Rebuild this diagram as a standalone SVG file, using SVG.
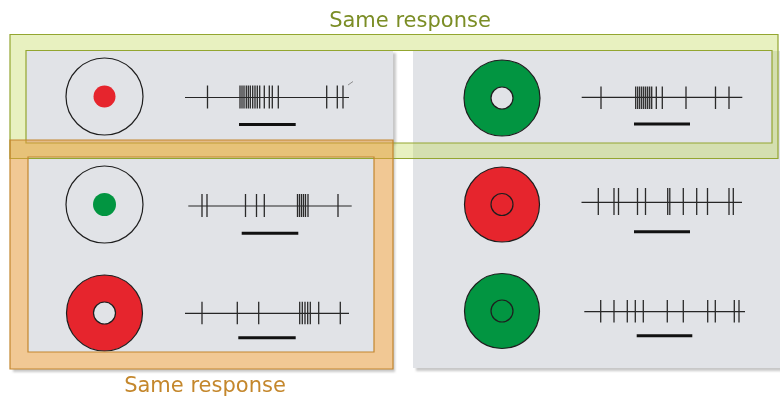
<svg xmlns="http://www.w3.org/2000/svg" width="780" height="398" viewBox="0 0 780 398">
  <style>
    .panel { fill: #e1e3e7; }
    .shadow { fill: #9a9a9a; opacity: 0.55; }
    .ring { fill: none; stroke: #1e1e1e; stroke-width: 1.2; }
    .red { fill: #e6252d; stroke: #1e1e1e; stroke-width: 1.2; }
    .green { fill: #029541; stroke: #1e1e1e; stroke-width: 1.2; }
    .dot-red { fill: #e6252d; }
    .dot-green { fill: #029541; }
    .axis { fill: none; stroke: #262626; stroke-width: 1.2; }
    .spikes { fill: none; stroke: #2a2a2a; stroke-width: 1.3; }
    .bar { fill: none; stroke: #111; stroke-width: 3; }
    .label { font-family: "DejaVu Sans", "Liberation Sans", sans-serif; font-size: 21px; text-anchor: middle; }
  </style>
  <defs>
    <filter id="soft" x="-5%" y="-5%" width="110%" height="110%">
      <feGaussianBlur stdDeviation="1.2"/>
    </filter>
  </defs>

  <rect width="780" height="398" fill="#ffffff"/>

  <!-- card shadows -->
  <g id="shadows" filter="url(#soft)">
    <rect class="shadow" x="29" y="53" width="367" height="92"/>
    <rect class="shadow" x="416" y="54" width="367" height="317"/>
    <rect class="shadow" x="13" y="143" width="382" height="229"/>
  </g>
  <!-- clear the area under the orange frame so its tint stays light -->
  <rect x="10" y="140" width="383" height="229" fill="#ffffff"/>

  <!-- cards -->
  <rect class="panel" x="26" y="50" width="367" height="93"/>
  <rect class="panel" x="413" y="51" width="367" height="317"/>
  <rect class="panel" x="28" y="157" width="346" height="195"/>

  <!-- row 1, left: small red spot in empty ring -->
  <g id="stim-top-left">
    <circle class="ring" cx="104.5" cy="96.5" r="38.5"/>
    <circle class="dot-red" cx="104.5" cy="96.5" r="11"/>
  </g>
  <g id="train-top-left">
    <path class="axis" d="M185 97.5 H349"/>
    <path class="spikes" d="M207.5 85.5 V108.5 M240 85.5 V108.5 M242 85.5 V108.5 M244 85.5 V108.5 M246.3 85.5 V108.5 M248.3 85.5 V108.5 M250.3 85.5 V108.5 M252.7 85.5 V108.5 M255 85.5 V108.5 M257.3 85.5 V108.5 M259.7 85.5 V108.5 M264.3 85.5 V108.5 M269.3 85.5 V108.5 M272.3 85.5 V108.5 M278.3 85.5 V108.5 M326.7 85.5 V108.5 M337.3 85.5 V108.5 M343 85.5 V108.5"/>
    <path d="M348 85 L353 81.5" stroke="#777" stroke-width="0.8" fill="none"/>
    <path class="bar" d="M239 124.5 H295.7"/>
  </g>

  <!-- row 1, right: green annulus -->
  <g id="stim-top-right">
    <path class="green" fill-rule="evenodd" d="M464 98 a38 38 0 1 0 76 0 a38 38 0 1 0 -76 0 Z M491 98 a11 11 0 1 0 22 0 a11 11 0 1 0 -22 0 Z"/>
  </g>
  <g id="train-top-right">
    <path class="axis" d="M581.7 97.3 H742.3"/>
    <path class="spikes" d="M601 86.5 V109 M635.7 86.5 V109 M637.7 86.5 V109 M639.7 86.5 V109 M641.7 86.5 V109 M643.7 86.5 V109 M645.7 86.5 V109 M647.7 86.5 V109 M649.7 86.5 V109 M651.7 86.5 V109 M656.3 86.5 V109 M662.3 86.5 V109 M686 86.5 V109 M715.5 86.5 V109 M729 86.5 V109"/>
    <path class="bar" d="M634 124 H690"/>
  </g>

  <!-- row 2, left: small green spot in empty ring -->
  <g id="stim-mid-left">
    <circle class="ring" cx="104.5" cy="204.5" r="38.5"/>
    <circle class="dot-green" cx="104.5" cy="204.5" r="11.5"/>
  </g>
  <g id="train-mid-left">
    <path class="axis" d="M188.3 206 H351.7"/>
    <path class="spikes" d="M202 194 V217 M207 194 V217 M245.5 194 V217 M256.5 194 V217 M264.3 194 V217 M297.5 194 V217 M299.5 194 V217 M301.5 194 V217 M303.5 194 V217 M305.5 194 V217 M308 194 V217 M338 194 V217"/>
    <path class="bar" d="M241.7 233.3 H298.3"/>
  </g>

  <!-- row 2, right: red disc with outlined centre -->
  <g id="stim-mid-right">
    <circle class="red" cx="502" cy="204.5" r="37.5"/>
    <circle class="ring" cx="502" cy="204.5" r="11"/>
  </g>
  <g id="train-mid-right">
    <path class="axis" d="M581.5 202.3 H742"/>
    <path class="spikes" d="M598.3 188 V215 M614 188 V215 M618.5 188 V215 M637.5 188 V215 M645.5 188 V215 M667.7 188 V215 M669.8 188 V215 M683.3 188 V215 M696.7 188 V215 M707.5 188 V215 M729 188 V215 M733.3 188 V215"/>
    <path class="bar" d="M634 231.7 H690"/>
  </g>

  <!-- row 3, left: red annulus -->
  <g id="stim-bottom-left">
    <path class="red" fill-rule="evenodd" d="M66.5 313 a38 38 0 1 0 76 0 a38 38 0 1 0 -76 0 Z M93.5 313 a11 11 0 1 0 22 0 a11 11 0 1 0 -22 0 Z"/>
  </g>
  <g id="train-bottom-left">
    <path class="axis" d="M185 313.3 H349"/>
    <path class="spikes" d="M202 301.7 V324.3 M237.3 301.7 V324.3 M258.7 301.7 V324.3 M299.7 301.7 V324.3 M302.3 301.7 V324.3 M305 301.7 V324.3 M307.7 301.7 V324.3 M310.3 301.7 V324.3 M318.7 301.7 V324.3 M340.3 301.7 V324.3"/>
    <path class="bar" d="M238.3 337.7 H295.7"/>
  </g>

  <!-- row 3, right: green disc with outlined centre -->
  <g id="stim-bottom-right">
    <circle class="green" cx="502" cy="311" r="37.5"/>
    <circle class="ring" cx="502" cy="311" r="11"/>
  </g>
  <g id="train-bottom-right">
    <path class="axis" d="M584.3 311.7 H745"/>
    <path class="spikes" d="M600.7 300 V322.5 M614 300 V322.5 M627.3 300 V322.5 M635.3 300 V322.5 M643.3 300 V322.5 M667.3 300 V322.5 M683.3 300 V322.5 M707.7 300 V322.5 M715.3 300 V322.5 M734.3 300 V322.5 M739 300 V322.5"/>
    <path class="bar" d="M636.7 335.7 H692.3"/>
  </g>

  <!-- highlight frames -->
  <g id="frame-green">
    <path fill="#bcd74a" fill-opacity="0.35" fill-rule="evenodd" d="M10 34.5 H778 V158.5 H10 Z M26 50.5 V143 H772 V50.5 Z"/>
    <path fill="none" stroke="#93a630" stroke-width="1.2" d="M10 34.5 H778 V158.5 H10 Z M26 50.5 V143 H772 V50.5 Z"/>
  </g>
  <g id="frame-orange">
    <path fill="#e69b3c" fill-opacity="0.55" fill-rule="evenodd" d="M10 140 H393 V369 H10 Z M28 157 V352 H374 V157 Z"/>
    <path fill="none" stroke="#c3862e" stroke-width="1.2" d="M10 140 H393 V369 H10 Z M28 157 V352 H374 V157 Z"/>
  </g>

  <text class="label" x="410" y="27" fill="#7b8d25">Same response</text>
  <text class="label" x="205" y="392" fill="#c4872c">Same response</text>
</svg>
